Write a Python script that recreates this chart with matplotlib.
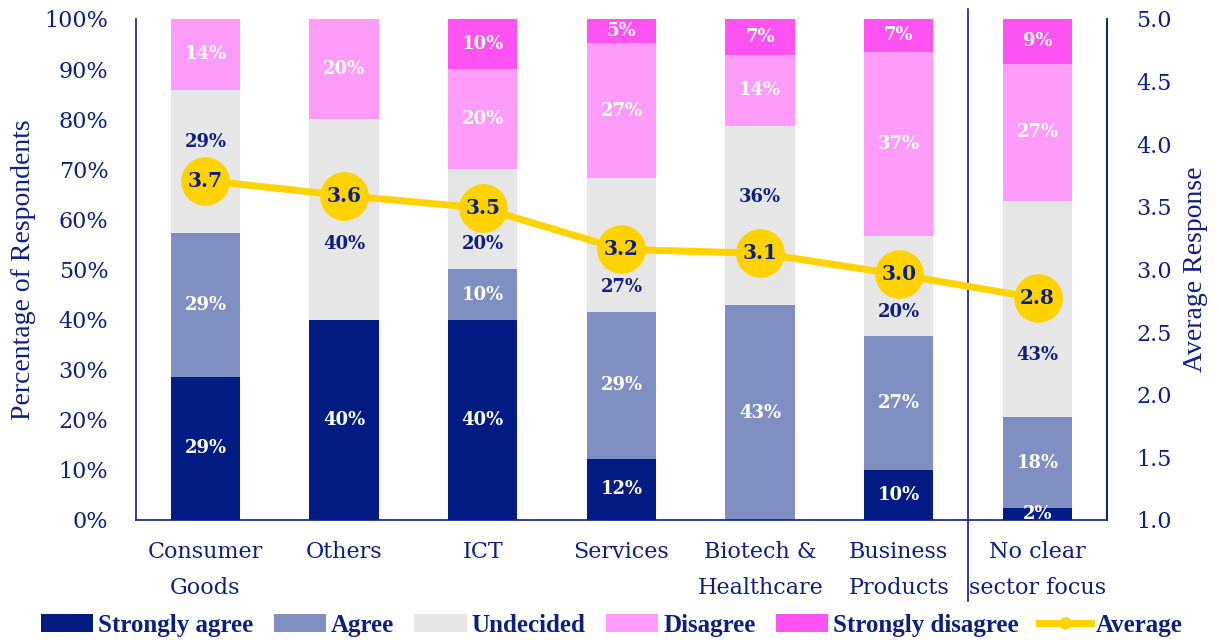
import matplotlib
matplotlib.use("Agg")
import matplotlib.pyplot as plt
import numpy as np
from matplotlib.lines import Line2D
from matplotlib.patches import Patch

categories = ["Consumer\nGoods", "Others", "ICT", "Services", "Biotech &\nHealthcare",
              "Business\nProducts", "No clear\nsector focus"]
strongly_agree = [28.6, 40.0, 40.0, 12.2, 0.0, 10.0, 2.3]
agree = [28.6, 0.0, 10.0, 29.3, 42.9, 26.7, 18.2]
undecided = [28.6, 40.0, 20.0, 26.8, 35.7, 20.0, 43.2]
disagree = [14.3, 20.0, 20.0, 26.8, 14.3, 36.7, 27.3]
strongly_disagree = [0.0, 0.0, 10.0, 4.9, 7.1, 6.7, 9.1]
average = [3.71, 3.59, 3.49, 3.16, 3.13, 2.96, 2.77]

series_names = ["Strongly agree", "Agree", "Undecided", "Disagree", "Strongly disagree"]
series = [strongly_agree, agree, undecided, disagree, strongly_disagree]

# layout: manual label positions (in %) for the Undecided labels, moved clear of the line
undecided_label_y = [75.4, 55.1, 55.1, 46.5, 64.5, 41.5, 32.9]

colors = ["#021C84", "#808FC2", "#E6E6E6", "#FF9CFA", "#FF52F2"]
label_colors = ["white", "white", "#0D1F80", "white", "white"]
navy = "#0D1F80"
yellow = "#FFD200"

plt.rcParams['font.family'] = ['DejaVu Serif', 'DejaVu Sans']

fig = plt.figure(figsize=(12.19, 6.40), dpi=100)
ax = fig.add_axes([0.1116, 0.1875, 0.7964, 0.7829])
x = np.arange(len(categories))
bottom = np.zeros(len(categories))
for k, (name, vals, c, lc) in enumerate(zip(series_names, series, colors, label_colors)):
    vals = np.array(vals)
    ax.bar(x, vals, 0.5, bottom=bottom, color=c, label=name, zorder=2)
    for i, (xi, v, b) in enumerate(zip(x, vals, bottom)):
        if v > 0:
            ypos = undecided_label_y[i] if name == "Undecided" else b + v / 2
            ax.text(xi, ypos, f"{round(v):.0f}%", ha="center", va="center",
                    color=lc, fontsize=13, fontweight="bold", zorder=3, clip_on=True)
    bottom += vals

ax.set_xlim(-0.5, len(categories) - 0.5)
ax.set_ylim(0, 100)
ax.set_yticks(np.arange(0, 101, 10))
ax.set_yticklabels([f"{v}%" for v in range(0, 101, 10)])
ax.set_xticks(x)
ax.set_xticklabels(categories, linespacing=1.85)
ax.tick_params(axis="both", length=0, colors=navy, labelsize=16)
ax.tick_params(axis="x", pad=15)
ax.tick_params(axis="y", pad=20)
ax.spines["top"].set_visible(False)
for s in ["left", "bottom", "right"]:
    ax.spines[s].set_color(navy)
    ax.spines[s].set_linewidth(1.2)
ax.set_ylabel("Percentage of Respondents", color=navy, fontsize=20, labelpad=6,
              family="Liberation Serif")

# separator line
ax.plot([5.5, 5.5], [1.02, -0.162], transform=ax.get_xaxis_transform(), color=navy,
        lw=1.2, clip_on=False, zorder=5)

ax2 = ax.twinx()
ax2.set_position(ax.get_position())
ax2.plot(x, average, color=yellow, lw=5, marker="o", markersize=34, zorder=4)
for xi, v in zip(x, average):
    ax2.text(xi, v, f"{v:.1f}", ha="center", va="center", color=navy, fontsize=14.5,
             fontweight="bold", zorder=5)
ax2.set_ylim(1, 5)
ax2.set_yticks(np.arange(1, 5.01, 0.5))
ax2.set_yticklabels([f"{v:.1f}" for v in np.arange(1, 5.01, 0.5)])
ax2.tick_params(axis="y", length=0, colors=navy, labelsize=16, pad=21)
for s in ["top", "left", "bottom"]:
    ax2.spines[s].set_visible(False)
ax2.spines["right"].set_color(navy)
ax2.spines["right"].set_linewidth(1.2)
ax2.set_ylabel("Average Response", color=navy, fontsize=20, labelpad=8,
               family="Liberation Serif")

handles = [Patch(facecolor=c, label=n) for c, n in zip(colors, series_names)]
handles.append(Line2D([0], [0], color=yellow, lw=5, marker="o", markersize=8, label="Average"))
leg = fig.legend(handles=handles, loc="center", bbox_to_anchor=(0.502, 0.023), ncol=6,
                 frameon=False, handlelength=2.1, handleheight=0.68,
                 columnspacing=0.8, handletextpad=0.2,
                 prop={"family": "Liberation Serif", "weight": "bold", "size": 18})
for t in leg.get_texts():
    t.set_color(navy)

fig.savefig("out.png", dpi=100)
